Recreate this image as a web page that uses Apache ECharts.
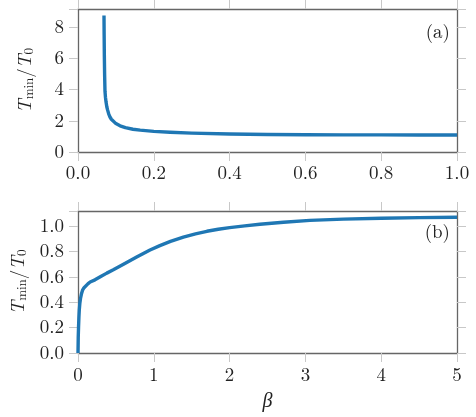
<!DOCTYPE html>
<html>
<head>
<meta charset="utf-8">
<script src="https://cdn.jsdelivr.net/npm/echarts@6/dist/echarts.min.js"></script>
<style>
  html, body { margin: 0; padding: 0; background: #fff; }
  #main { width: 476px; height: 417px; }
</style>
</head>
<body>
<div id="main"></div>
<script>
// panel (a): beta in [0, 1]
const betaA = [0.0686, 0.0690, 0.0695, 0.0702, 0.0712, 0.0725, 0.074, 0.076, 0.078, 0.081, 0.084, 0.088, 0.092, 0.100, 0.111, 0.125, 0.145, 0.164, 0.2, 0.243, 0.3, 0.4, 0.5, 0.6, 0.7, 0.8, 0.9, 1.0]
const tminA = [8.75, 7.5, 6.2, 5.0, 3.9, 3.5, 3.2, 2.9, 2.7, 2.45, 2.26, 2.1, 1.98, 1.82, 1.68, 1.56, 1.46, 1.40, 1.32, 1.27, 1.21, 1.15, 1.12, 1.11, 1.10, 1.095, 1.09, 1.09]

// panel (b): beta in [0, 5]
const betaB = [0, 0.003, 0.007, 0.012, 0.017, 0.024, 0.033, 0.045, 0.06, 0.08, 0.1, 0.13, 0.16, 0.224, 0.3, 0.38, 0.466, 0.6, 0.774, 0.95, 1.08, 1.22, 1.39, 1.55, 1.7, 1.85, 2.0, 2.2, 2.4, 2.71, 3.06, 3.5, 4.0, 4.5, 5.0]
const tminB = [0, 0.12, 0.2, 0.28, 0.34, 0.39, 0.43, 0.465, 0.495, 0.515, 0.53, 0.545, 0.56, 0.577, 0.603, 0.63, 0.656, 0.70, 0.757, 0.812, 0.847, 0.88, 0.914, 0.94, 0.96, 0.976, 0.989, 1.003, 1.015, 1.031, 1.046, 1.056, 1.063, 1.068, 1.071]

const FONT = 'Latin Modern Roman, Liberation Serif, serif'
const BOX = '#666'
const TICK = '#c8c8c8'
const BLUE = '#1f77b4'

function pairs(xs, ys) {
  return xs.map((x, i) => [x, ys[i]])
}

const yName = {
  name: '{t|T}{s|min}{n|/}{t|T}{s|0}',
  nameLocation: 'middle',
  nameRotate: 90,
  nameGap: 42,
  nameTextStyle: {
    rich: {
      t: { fontFamily: FONT, fontStyle: 'italic', fontSize: 19, color: '#222' },
      n: { fontFamily: FONT, fontSize: 19, color: '#222' },
      s: { fontFamily: FONT, fontSize: 13, color: '#222', padding: [9, 0, 0, 0] }
    }
  }
}

function mainAxis(pos, min, max, interval, digits, margin) {
  return {
    type: 'value',
    position: pos,
    min: min,
    max: max,
    interval: interval,
    axisLine: { show: true, onZero: false, lineStyle: { color: BOX, width: 1.3 } },
    axisTick: { show: true, inside: false, length: 9, lineStyle: { color: TICK } },
    splitLine: { show: false },
    axisLabel: {
      show: true,
      margin: margin,
      fontFamily: FONT,
      fontSize: 19,
      color: '#222',
      formatter: function (v) {
        if (Math.abs(v / interval - Math.round(v / interval)) > 1e-6) return ''
        return digits ? v.toFixed(digits) : String(v)
      }
    }
  }
}

function frameAxis(pos, min, max, interval) {
  return {
    type: 'value',
    position: pos,
    min: min,
    max: max,
    interval: interval,
    axisLine: { show: true, onZero: false, lineStyle: { color: BOX, width: 1.3 } },
    axisTick: { show: true, inside: false, length: 9, lineStyle: { color: TICK } },
    splitLine: { show: false },
    axisLabel: { show: false }
  }
}

const chart = echarts.init(document.getElementById('main'), null, { renderer: 'canvas' })

const xa = Object.assign(mainAxis('bottom', 0, 1, 0.2, 1, 12), { gridIndex: 0 })
const xb = Object.assign(mainAxis('bottom', 0, 5, 1, 0, 13), {
  gridIndex: 1,
  name: 'β',
  nameLocation: 'middle',
  nameGap: 38,
  nameTextStyle: { fontFamily: FONT, fontStyle: 'italic', fontSize: 20, color: '#222' }
})

const ya = Object.assign(mainAxis('left', 0, 9.17, 2, 0, 14), yName, { gridIndex: 0 })
const yb = Object.assign(mainAxis('left', 0, 1.12, 0.2, 1, 14), yName, { gridIndex: 1 })

// top / right frame with outer ticks
const xaTop = Object.assign(frameAxis('top', 0, 1, 0.2), { gridIndex: 0 })
const xbTop = Object.assign(frameAxis('top', 0, 5, 1), { gridIndex: 1 })
const yaRight = Object.assign(frameAxis('right', 0, 9.17, 2), { gridIndex: 0 })
const ybRight = Object.assign(frameAxis('right', 0, 1.12, 0.2), { gridIndex: 1 })

chart.setOption({
  backgroundColor: '#fff',
  animation: false,
  grid: [
    { left: 78, top: 9, width: 379, height: 143 },
    { left: 78, top: 211, width: 379, height: 142 }
  ],
  xAxis: [xa, xb, xaTop, xbTop],
  yAxis: [ya, yb, yaRight, ybRight],
  series: [
    {
      type: 'line',
      xAxisIndex: 0,
      yAxisIndex: 0,
      data: pairs(betaA, tminA),
      showSymbol: false,
      smooth: false,
      clip: true,
      lineStyle: { color: BLUE, width: 3.4, join: 'round', cap: 'butt' }
    },
    {
      type: 'line',
      xAxisIndex: 1,
      yAxisIndex: 1,
      data: pairs(betaB, tminB),
      showSymbol: false,
      smooth: false,
      clip: true,
      lineStyle: { color: BLUE, width: 3.4, join: 'round', cap: 'butt' }
    }
  ],
  graphic: [
    { type: 'text', right: 26, top: 23, style: { text: '(a)', fontFamily: FONT, fontSize: 19, fill: '#222' } },
    { type: 'text', right: 26, top: 223, style: { text: '(b)', fontFamily: FONT, fontSize: 19, fill: '#222' } }
  ]
})
</script>
</body>
</html>
